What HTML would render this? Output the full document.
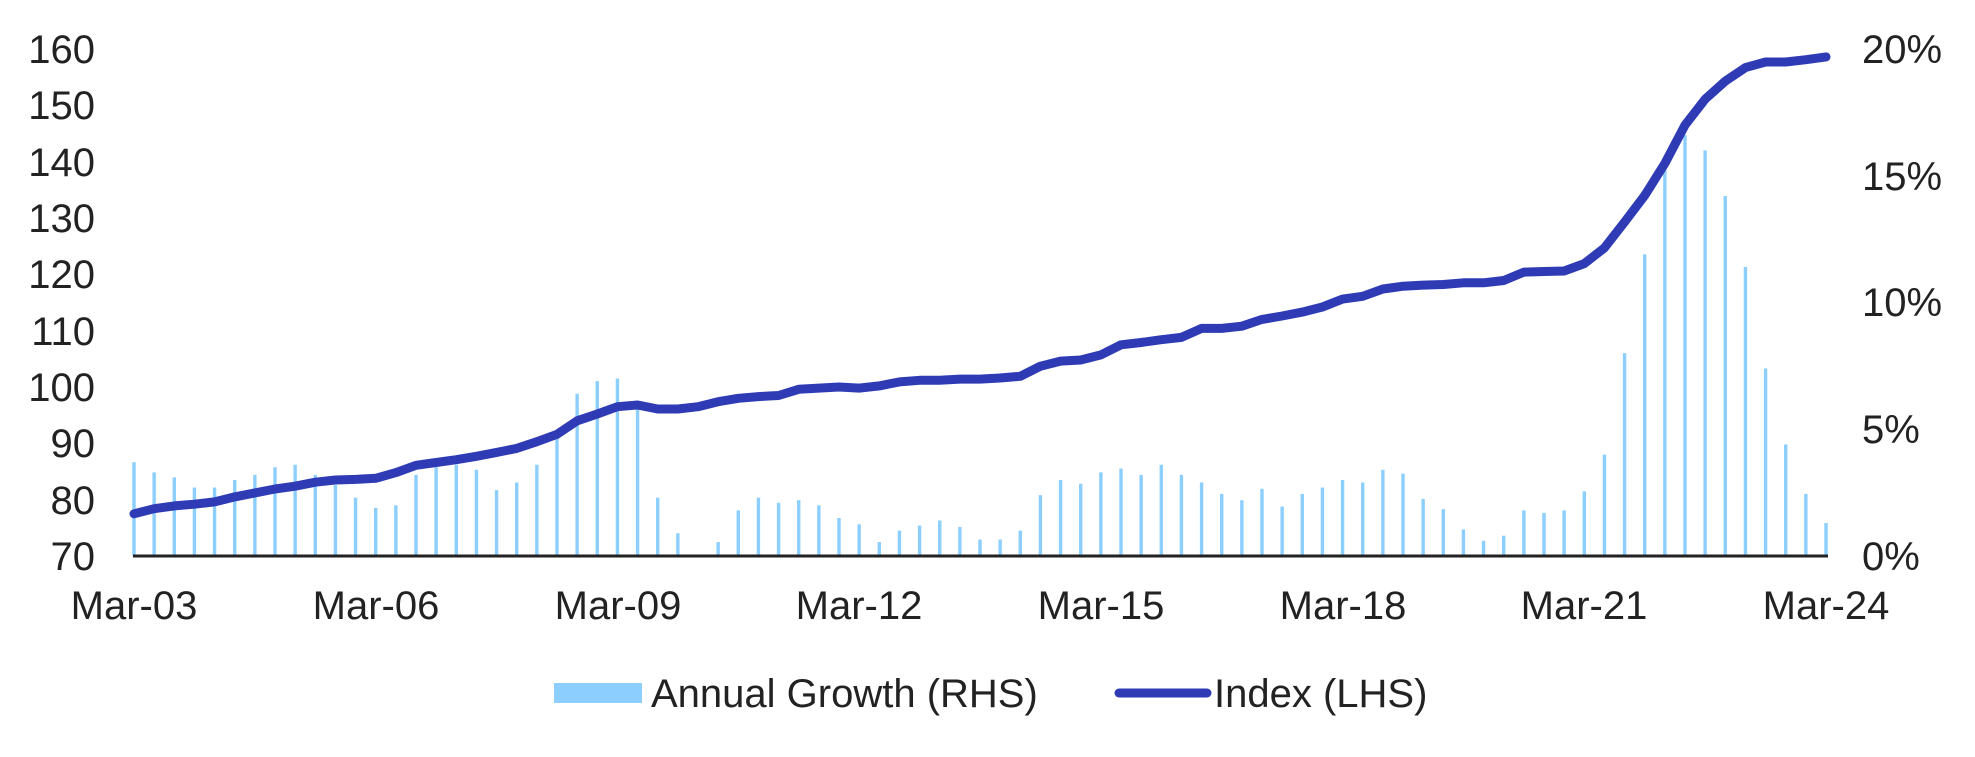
<!DOCTYPE html>
<html><head><meta charset="utf-8"><style>
html,body{margin:0;padding:0;background:#fff;}
svg{display:block;}
text{font-family:"Liberation Sans",Arial,sans-serif;fill:#222;}
</style></head><body>
<svg id="c" width="1975" height="757" viewBox="0 0 1975 757" xmlns="http://www.w3.org/2000/svg">
<g id="bars"></g>
<line x1="133" y1="556" x2="1828" y2="556" stroke="#222" stroke-width="3"/>
<polyline id="ln" fill="none" stroke="#2e3bb5" stroke-width="9" stroke-linejoin="round" stroke-linecap="round" points=""/>
<g font-size="40" text-anchor="end">
<text x="95" y="570">70</text>
<text x="95" y="514">80</text>
<text x="95" y="457">90</text>
<text x="95" y="401">100</text>
<text x="95" y="345">110</text>
<text x="95" y="288">120</text>
<text x="95" y="232">130</text>
<text x="95" y="176">140</text>
<text x="95" y="119">150</text>
<text x="95" y="63">160</text>
</g>
<g font-size="40">
<text x="1862" y="570">0%</text>
<text x="1862" y="443">5%</text>
<text x="1862" y="316">10%</text>
<text x="1862" y="190">15%</text>
<text x="1862" y="63">20%</text>
</g>
<g font-size="40" text-anchor="middle">
<text x="134" y="619">Mar-03</text>
<text x="376" y="619">Mar-06</text>
<text x="618" y="619">Mar-09</text>
<text x="859" y="619">Mar-12</text>
<text x="1101" y="619">Mar-15</text>
<text x="1343" y="619">Mar-18</text>
<text x="1584" y="619">Mar-21</text>
<text x="1826" y="619">Mar-24</text>
</g>
<rect x="554" y="683" width="88" height="20" fill="#8ccfff"/>
<text x="651" y="707" font-size="40">Annual Growth (RHS)</text>
<line x1="1119" y1="693" x2="1207" y2="693" stroke="#2e3bb5" stroke-width="9" stroke-linecap="round"/>
<text x="1214" y="707" font-size="40">Index (LHS)</text>
</svg>
<script>
var bars=[3.7,3.3,3.1,2.7,2.7,3.0,3.2,3.5,3.6,3.2,2.8,2.3,1.9,2.0,3.2,3.5,3.6,3.4,2.6,2.9,3.6,4.8,6.4,6.9,7.0,6.0,2.3,0.9,0,0.55,1.8,2.3,2.1,2.2,2.0,1.5,1.25,0.55,1.0,1.2,1.4,1.15,0.65,0.65,1.0,2.4,3.0,2.85,3.3,3.45,3.2,3.6,3.2,2.9,2.45,2.2,2.65,1.95,2.45,2.7,3.0,2.9,3.4,3.25,2.25,1.85,1.05,0.6,0.8,1.8,1.7,1.8,2.55,4.0,8.0,11.9,15.4,16.6,16.0,14.2,11.4,7.4,4.4,2.45,1.3];
var idx=[77.5,78.4,78.9,79.2,79.6,80.5,81.2,81.9,82.4,83.1,83.5,83.6,83.8,84.8,86.1,86.6,87.1,87.7,88.4,89.1,90.3,91.6,94.0,95.2,96.5,96.8,96.1,96.1,96.5,
97.4,98.0,98.3,98.5,99.6,99.8,100.0,99.8,100.2,100.9,101.2,101.2,101.4,101.4,101.6,101.9,103.7,104.6,104.8,105.7,107.5,107.9,108.4,108.8,110.4,110.4,110.8,112.0,112.6,
113.3,114.2,115.6,116.1,117.4,117.9,118.1,118.2,118.5,118.5,118.9,120.4,120.5,120.6,121.9,124.7,129.3,134.0,139.7,146.5,151.1,154.3,156.7,157.7,157.7,158.1,158.6];
var ns="http://www.w3.org/2000/svg",g=document.getElementById('bars');
function X(i){return 134+i*(1826-134)/84;}
bars.forEach(function(p,i){if(p<=0)return;var r=document.createElementNS(ns,'rect');var h=p*25.35;
r.setAttribute('x',X(i)-1.7);r.setAttribute('y',556-h);r.setAttribute('width',3.4);r.setAttribute('height',h);r.setAttribute('fill','#8ccfff');g.appendChild(r);});
var pts=idx.map(function(v,i){return X(i).toFixed(1)+','+(556-(v-70)*5.633).toFixed(1);}).join(' ');
document.getElementById('ln').setAttribute('points',pts);
</script>
</body></html>
